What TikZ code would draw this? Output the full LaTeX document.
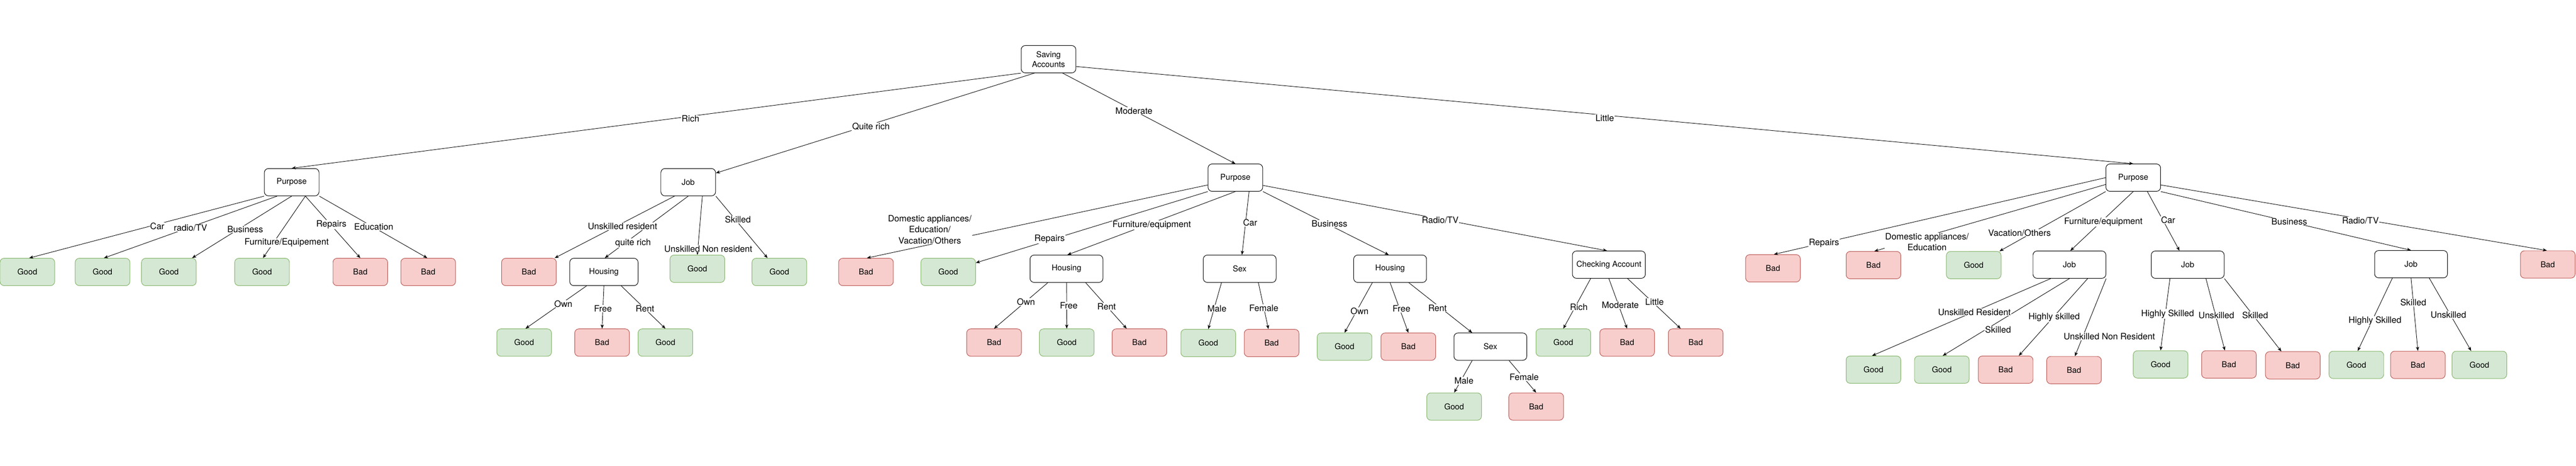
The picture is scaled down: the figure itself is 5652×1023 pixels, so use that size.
\documentclass[tikz,border=0pt]{standalone}
\usepackage{fontspec}
\setmainfont{TeX Gyre Heros}
\usetikzlibrary{arrows.meta}
\definecolor{goodfill}{HTML}{D5E8D4}
\definecolor{goodline}{HTML}{82B366}
\definecolor{badfill}{HTML}{F8CECC}
\definecolor{badline}{HTML}{B85450}
\newcommand{\boxfont}{\fontsize{17.7}{21}\selectfont}
\newcommand{\lblfont}{\fontsize{19.3}{24}\selectfont}
\tikzset{
  dec/.style={draw=black, fill=white, line width=1.1pt, rounded corners=9pt,
    minimum width=120pt, minimum height=60pt, inner sep=0pt, align=center, font=\boxfont},
  wide/.style={minimum width=160pt},
  good/.style={dec, fill=goodfill, draw=goodline},
  bad/.style={dec, fill=badfill, draw=badline},
  edge/.style={draw=black, line width=1pt, -{Stealth[length=9pt,width=7pt,inset=2.5pt]}},
  lbl/.style={fill=white, inner sep=1pt, align=center, font=\lblfont}
}
\begin{document}
\begin{tikzpicture}[x=1pt,y=-1pt]
\useasboundingbox (0,0) rectangle (5652,1023);
% ---------- decision nodes ----------
\node[dec] (root) at (2300.5,130) {Saving\\Accounts};
\node[dec] (p1) at (640,400) {Purpose};
\node[dec] (j1) at (1510,400) {Job};
\node[dec] (p2) at (2710.5,390) {Purpose};
\node[dec] (p3) at (4680.5,390) {Purpose};
% ---------- Rich / Purpose ----------
\node[good] (g11) at (60,597) {Good};
\node[good] (g12) at (225,597) {Good};
\node[good] (g13) at (370.5,597) {Good};
\node[good] (g14) at (575,597) {Good};
\node[bad]  (b11) at (790.5,597) {Bad};
\node[bad]  (b12) at (939.5,597) {Bad};
% ---------- Quite rich / Job ----------
\node[bad]  (b21) at (1160.5,597) {Bad};
\node[dec, minimum width=150pt] (h1) at (1325,597) {Housing};
\node[good] (g21) at (1530,590) {Good};
\node[good] (g22) at (1710,597) {Good};
\node[good] (g23) at (1150,752) {Good};
\node[bad]  (b22) at (1321,752) {Bad};
\node[good] (g24) at (1460,752) {Good};
% ---------- Moderate / Purpose ----------
\node[bad]  (b31) at (1900,597) {Bad};
\node[good] (g31) at (2080.5,597) {Good};
\node[dec,wide] (h2) at (2340,590) {Housing};
\node[dec,wide] (s1) at (2720,590) {Sex};
\node[dec,wide] (h3) at (3050,590) {Housing};
\node[dec,wide] (ca) at (3530,581) {Checking Account};
\node[bad]  (b32) at (2181,752) {Bad};
\node[good] (g32) at (2340.5,752) {Good};
\node[bad]  (b33) at (2500,752) {Bad};
\node[good] (g33) at (2651,753) {Good};
\node[bad]  (b34) at (2790,753) {Bad};
\node[good] (g34) at (2950,761) {Good};
\node[bad]  (b35) at (3090,761) {Bad};
\node[dec,wide] (s2) at (3270,761) {Sex};
\node[good] (g35) at (3190.5,892.5) {Good};
\node[bad]  (b36) at (3370.5,892.5) {Bad};
\node[good] (g36) at (3430,752) {Good};
\node[bad]  (b37) at (3570,752) {Bad};
\node[bad]  (b38) at (3720.5,752) {Bad};
% ---------- Little / Purpose ----------
\node[bad]  (b41) at (3890,589) {Bad};
\node[bad]  (b42) at (4110.5,582) {Bad};
\node[good] (g41) at (4330.5,582) {Good};
\node[dec,wide] (j2) at (4540.5,581) {Job};
\node[dec,wide] (j3) at (4800,581) {Job};
\node[dec,wide] (j4) at (5290,580) {Job};
\node[bad]  (b43) at (5590,580.5) {Bad};
\node[good] (g42) at (4110.5,811.5) {Good};
\node[good] (g43) at (4260.5,811.5) {Good};
\node[bad]  (b44) at (4400.5,811.5) {Bad};
\node[bad]  (b45) at (4550.5,812.5) {Bad};
\node[good] (g44) at (4740.5,800) {Good};
\node[bad]  (b46) at (4890.5,800) {Bad};
\node[bad]  (b47) at (5030.5,802) {Bad};
\node[good] (g45) at (5170,801) {Good};
\node[bad]  (b48) at (5305,801) {Bad};
\node[good] (g46) at (5440,801) {Good};
% ---------- edges ----------
% root
\draw[edge] (root.south west) -- (p1.north);
\draw[edge] ([xshift=-31pt]root.south) -- ([yshift=20pt]j1.east);
\draw[edge] ([xshift=31pt]root.south) -- (p2.north);
\draw[edge] ([yshift=-16pt]root.east) -- (p3.north);
% p1
\draw[edge] (p1.south west) -- ([xshift=4pt]g11.north);
\draw[edge] ([xshift=-32pt]p1.south) -- ([xshift=3pt]g12.north);
\draw[edge] (p1.south) -- ([xshift=51pt]g13.north);
\draw[edge] ([xshift=30pt]p1.south) -- ([xshift=2pt]g14.north);
\draw[edge] ([xshift=30pt]p1.south) -- (b11.north);
\draw[edge] (p1.south east) -- ([xshift=-2pt]b12.north);
% j1
\draw[edge] ([xshift=-30pt]j1.south) -- ([xshift=-4pt]b21.north east);
\draw[edge] (j1.south) -- ([xshift=2pt]h1.north);
\draw[edge] ([xshift=31pt]j1.south) -- (g21.north);
\draw[edge] (j1.south east) -- ([xshift=-26pt]g22.north);
\draw[edge] ([xshift=-38pt]h1.south) -- ([xshift=3pt]g23.north);
\draw[edge] (h1.south) -- (b22.north);
\draw[edge] ([xshift=38pt]h1.south) -- (g24.north);
% p2
\draw[edge] ([yshift=-16pt]p2.west) -- ([xshift=2pt]b31.north);
\draw[edge] (p2.south west) -- ([yshift=20pt]g31.east);
\draw[edge] (p2.south) -- ([xshift=2pt]h2.north);
\draw[edge] ([xshift=30pt]p2.south) -- ([xshift=5pt]s1.north);
\draw[edge] (p2.south east) -- ([xshift=-3pt]h3.north);
\draw[edge] ([yshift=-17pt]p2.east) -- ([xshift=-4pt]ca.north);
\draw[edge] ([xshift=-41pt]h2.south) -- (b32.north);
\draw[edge] (h2.south) -- (g32.north);
\draw[edge] ([xshift=42pt]h2.south) -- ([xshift=-28pt]b33.north);
\draw[edge] ([xshift=-40pt]s1.south) -- (g33.north);
\draw[edge] ([xshift=41pt]s1.south) -- ([xshift=-7pt]b34.north);
\draw[edge] ([xshift=-39pt]h3.south) -- (g34.north);
\draw[edge] (h3.south) -- (b35.north);
\draw[edge] ([xshift=41pt]h3.south) -- ([xshift=-40pt]s2.north);
\draw[edge] ([xshift=-40pt]s2.south) -- (g35.north);
\draw[edge] ([xshift=41pt]s2.south) -- (b36.north);
\draw[edge] ([xshift=-40pt]ca.south) -- (g36.north);
\draw[edge] (ca.south) -- (b37.north);
\draw[edge] ([xshift=41pt]ca.south) -- ([xshift=-33pt]b38.north);
% p3
\draw[edge] (p3.west) -- ([xshift=2pt]b41.north);
\draw[edge] ([yshift=-15pt]p3.west) -- ([xshift=2pt]b42.north);
\draw[edge] (p3.south west) -- ([xshift=-4pt]g41.north east);
\draw[edge] (p3.south) -- ([xshift=2pt]j2.north);
\draw[edge] ([xshift=31pt]p3.south) -- ([xshift=-18pt]j3.north);
\draw[edge] (p3.south east) -- (j4.north);
\draw[edge] ([yshift=-16pt]p3.east) -- ([xshift=-2pt]b43.north);
\draw[edge] ([xshift=-41pt]j2.south) -- ([xshift=-3pt]g42.north);
\draw[edge] (j2.south) -- ([xshift=2pt]g43.north);
\draw[edge] ([xshift=40pt]j2.south) -- ([xshift=29pt]b44.north);
\draw[edge] (j2.south east) -- ([xshift=2pt]b45.north);
\draw[edge] ([xshift=-39pt]j3.south) -- (g44.north);
\draw[edge] ([xshift=40pt]j3.south) -- ([xshift=-9pt]b46.north);
\draw[edge] (j3.south east) -- ([xshift=-25pt]b47.north);
\draw[edge] ([xshift=-41pt]j4.south) -- ([xshift=3pt]g45.north);
\draw[edge] (j4.south) -- (b48.north);
\draw[edge] ([xshift=40pt]j4.south) -- ([xshift=-18pt]g46.north);
% ---------- edge labels ----------
\node[lbl] (l01) at (1515,261) {Rich};
\node[lbl] (l02) at (1911,278) {Quite rich};
\node[lbl] (l03) at (2488,243) {Moderate};
\node[lbl] (l04) at (3521,259) {Little};
\node[lbl] (l05) at (345,497) {Car};
\node[lbl] (l06) at (418,500) {radio/TV};
\node[lbl] (l07) at (538,503) {Business};
\node[lbl] (l08) at (629,533) {Furniture/Equipement};
\node[lbl] (l09) at (727,493) {Repairs};
\node[lbl] (l10) at (820,498) {Education};
\node[lbl] (l11) at (1366,497) {Unskilled resident};
\node[lbl] (l12) at (1389,534) {quite rich};
\node[lbl] (l13) at (1554,546) {Unskilled Non resident};
\node[lbl] (l14) at (1619,482) {Skilled};
\node[lbl] (l15) at (1236,667) {Own};
\node[lbl] (l16) at (1323,677) {Free};
\node[lbl] (l17) at (1415,677) {Rent};
\node[lbl] (l18) at (2040,504) {Domestic appliances/\\Education/\\Vacation/Others};
\node[lbl] (l19) at (2303,525) {Repairs};
\node[lbl] (l20) at (2527,494) {Furniture/equipment};
\node[lbl] (l21) at (2743,489) {Car};
\node[lbl] (l22) at (2917,491) {Business};
\node[lbl] (l23) at (3160,483) {Radio/TV};
\node[lbl] (l24) at (2251,663) {Own};
\node[lbl] (l25) at (2345,671) {Free};
\node[lbl] (l26) at (2428,673) {Rent};
\node[lbl] (l27) at (2670,677) {Male};
\node[lbl] (l28) at (2773,676) {Female};
\node[lbl] (l29) at (2983,683) {Own};
\node[lbl] (l30) at (3075,678) {Free};
\node[lbl] (l31) at (3154,676) {Rent};
\node[lbl] (l32) at (3212,836) {Male};
\node[lbl] (l33) at (3344,828) {Female};
\node[lbl] (l34) at (3464,674) {Rich};
\node[lbl] (l35) at (3555,670) {Moderate};
\node[lbl] (l36) at (3630,663) {Little};
\node[lbl] (l37) at (4002,534) {Repairs};
\node[lbl] (l38) at (4228,531) {Domestic appliances/\\Education};
\node[lbl] (l39) at (4431,511) {Vacation/Others};
\node[lbl] (l40) at (4615,487) {Furniture/equipment};
\node[lbl] (l41) at (4757,483) {Car};
\node[lbl] (l42) at (5023,486) {Business};
\node[lbl] (l43) at (5179,484) {Radio/TV};
\node[lbl] (l44) at (4332,685) {Unskilled Resident};
\node[lbl] (l45) at (4384,724) {Skilled};
\node[lbl] (l46) at (4507,697) {Highly skilled};
\node[lbl] (l47) at (4628,739) {Unskilled Non Resident};
\node[lbl] (l48) at (4756,689) {Highly Skilled};
\node[lbl] (l49) at (4863,692) {Unskilled};
\node[lbl] (l50) at (4948,692) {Skilled};
\node[lbl] (l51) at (5295,664) {Skilled};
\node[lbl] (l52) at (5211,704) {Highly Skilled};
\node[lbl] (l53) at (5372,691) {Unskilled};
\end{tikzpicture}
\end{document}
